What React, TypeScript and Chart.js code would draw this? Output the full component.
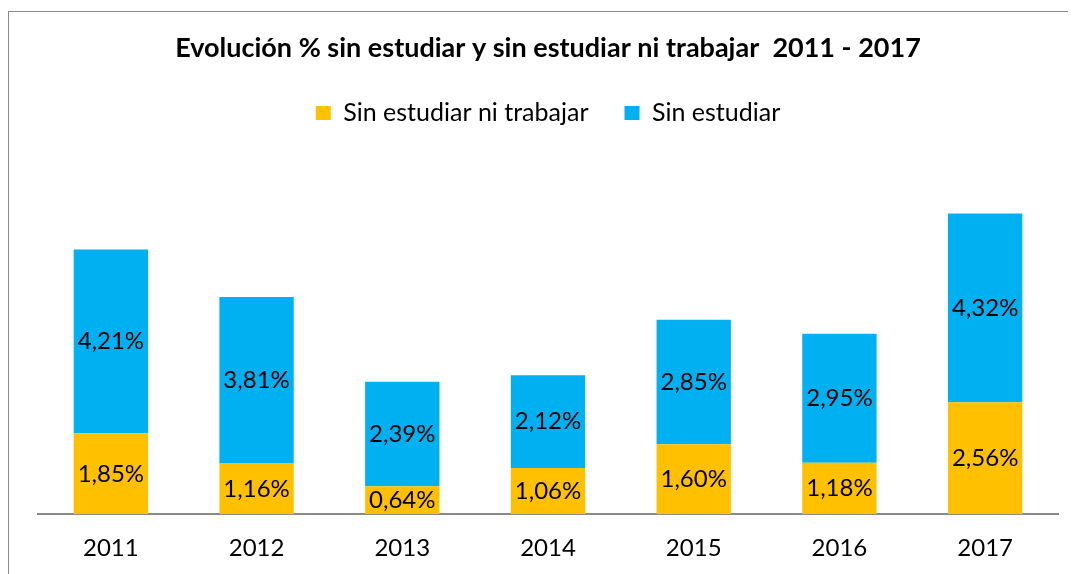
import React, { useEffect, useRef } from "react";
import { Chart, registerables } from "chart.js";

Chart.register(...registerables);

const categories = ["2011", "2012", "2013", "2014", "2015", "2016", "2017"];
const sinEstudiarNiTrabajar = [1.85, 1.16, 0.64, 1.06, 1.6, 1.18, 2.56];
const sinEstudiar = [4.21, 3.81, 2.39, 2.12, 2.85, 2.95, 4.32];
const seriesNames = ["Sin estudiar ni trabajar", "Sin estudiar"];
const titleText = "Evolución % sin estudiar y sin estudiar ni trabajar  2011 - 2017";

const FONT = "Lato";
const TICK_PAD = 20;
const TICK_SIZE = 24;

const labelPlugin = {
  id: "barLabels",
  afterDatasetsDraw(chart: any) {
    const ctx = chart.ctx;
    ctx.save();
    ctx.font = `24px ${FONT}`;
    ctx.fillStyle = "#000";
    ctx.textAlign = "center";
    ctx.textBaseline = "middle";
    chart.data.datasets.forEach((ds: any, di: number) => {
      const meta = chart.getDatasetMeta(di);
      meta.data.forEach((bar: any, i: number) => {
        const v = ds.data[i];
        const { x, y, base } = bar.getProps(["x", "y", "base"], true);
        const txt = v.toFixed(2).replace(".", ",") + "%";
        ctx.fillText(txt, x, (y + base) / 2);
      });
    });
    ctx.restore();
  },
};

export default function App() {
  const ref = useRef<HTMLCanvasElement>(null);
  useEffect(() => {
    let chart: any = null;
    let cancelled = false;
    const make = () => {
      if (cancelled || !ref.current) return;
      chart = new Chart(ref.current, {
        type: "bar",
        data: {
          labels: categories,
          datasets: [
            {
              label: seriesNames[0],
              data: sinEstudiarNiTrabajar,
              backgroundColor: "#FFC000",
              barPercentage: 0.51,
              categoryPercentage: 1,
            },
            {
              label: seriesNames[1],
              data: sinEstudiar,
              backgroundColor: "#00B0F0",
              barPercentage: 0.51,
              categoryPercentage: 1,
            },
          ],
        },
        options: {
          animation: false,
          responsive: false,
          devicePixelRatio: 1,
          layout: { padding: { left: 29, right: 18, top: 0, bottom: 11 } },
          plugins: {
            title: {
              display: true,
              text: titleText,
              color: "#000",
              font: { family: FONT, size: 27, weight: "bold" },
              padding: { top: 20, bottom: 0 },
            },
            legend: {
              display: true,
              position: "top",
              labels: {
                color: "#000",
                font: { family: FONT, size: 25 },
                boxWidth: 15,
                boxHeight: 14,
                padding: 36,
              },
            },
            tooltip: { enabled: false },
          },
          scales: {
            x: {
              stacked: true,
              grid: { display: false, drawTicks: false },
              border: { display: true, color: "#898989", width: 2 },
              ticks: { color: "#000", font: { family: FONT, size: TICK_SIZE }, padding: TICK_PAD },
              afterFit: (s: any) => {
                s.height = TICK_PAD + TICK_SIZE * 1.2;
              },
            },
            y: {
              stacked: true,
              display: false,
              min: 0,
              max: 8.67,
            },
          },
        },
        plugins: [labelPlugin],
      });
    };
    const p = (document as any).fonts
      ? Promise.all([
          (document as any).fonts.load(`24px ${FONT}`),
          (document as any).fonts.load(`bold 24px ${FONT}`),
        ])
      : Promise.resolve();
    p.then(make, make);
    return () => {
      cancelled = true;
      if (chart) chart.destroy();
    };
  }, []);
  return (
    <div
      style={{
        marginTop: 3,
        width: 1068,
        height: 563,
        boxSizing: "border-box",
        borderTop: "1px solid #8a8a8a",
        borderLeft: "1px solid #8a8a8a",
        overflow: "hidden",
      }}
    >
      <canvas ref={ref} width={1067} height={562} style={{ display: "block" }} />
    </div>
  );
}
